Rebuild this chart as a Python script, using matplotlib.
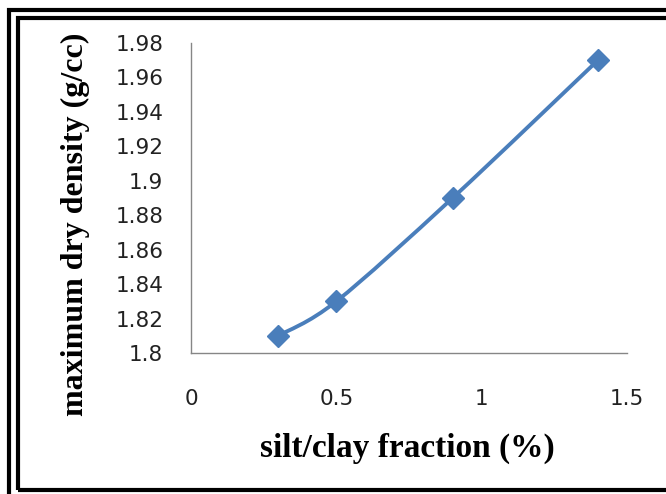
import numpy as np
from matplotlib import pyplot as plt
from matplotlib.path import Path
from matplotlib.patches import PathPatch, Rectangle
from matplotlib.ticker import FuncFormatter

# data
silt_clay = [0.3, 0.5, 0.9, 1.4]
max_dry_density = [1.81, 1.83, 1.89, 1.97]
x_ticks = [0, 0.5, 1, 1.5]
y_ticks = [1.80, 1.82, 1.84, 1.86, 1.88, 1.90, 1.92, 1.94, 1.96, 1.98]

W, H = 666, 494
fig = plt.figure(figsize=(W / 100, H / 100), dpi=100)

# double black frame (chart is cut off on the right)
def px_rect(x0, y0, x1, y1, lw, color):
    fig.patches.append(Rectangle((x0 / W, 1 - y1 / H), (x1 - x0) / W, (y1 - y0) / H,
                                 transform=fig.transFigure, fill=False,
                                 edgecolor=color, linewidth=lw))

px_rect(9, 10, 700, 520, 3.0, 'black')
px_rect(18, 18, 700, 490, 3.0, 'black')

ax = fig.add_axes([191 / W, 1 - 353 / H, (627 - 191) / W, (353 - 43) / H])
ax.set_xlim(0, 1.5)
ax.set_ylim(1.8, 1.98)
ax.set_xticks(x_ticks)
ax.set_yticks(y_ticks)
fmt = FuncFormatter(lambda v, p: '%g' % round(v, 2))
ax.xaxis.set_major_formatter(fmt)
ax.yaxis.set_major_formatter(fmt)
ax.tick_params(length=0, labelsize=15.5, colors='#222222')
ax.tick_params(axis='y', pad=20)
ax.tick_params(axis='x', pad=26)
for s in ['top', 'right']:
    ax.spines[s].set_visible(False)
for s in ['left', 'bottom']:
    ax.spines[s].set_color('#868686')
    ax.spines[s].set_linewidth(1.0)

# Excel-style smoothed line: cubic bezier through the points
xs = np.array(silt_clay)
ys = np.array(max_dry_density)
n = len(xs)
verts = [(xs[0], ys[0])]
codes = [Path.MOVETO]
for i in range(n - 1):
    p0 = (xs[max(i - 1, 0)], ys[max(i - 1, 0)])
    p1 = (xs[i], ys[i])
    p2 = (xs[i + 1], ys[i + 1])
    p3 = (xs[min(i + 2, n - 1)], ys[min(i + 2, n - 1)])
    c1 = (p1[0] + (p2[0] - p0[0]) / 6, p1[1] + (p2[1] - p0[1]) / 6)
    c2 = (p2[0] - (p3[0] - p1[0]) / 6, p2[1] - (p3[1] - p1[1]) / 6)
    verts += [c1, c2, p2]
    codes += [Path.CURVE4] * 3
ax.add_patch(PathPatch(Path(verts, codes), fill=False, edgecolor='#4a7ebb',
                       linewidth=2.8, clip_on=False))
ax.plot(xs, ys, linestyle='none', marker='D', markersize=11,
        color='#4a7ebb', clip_on=False, zorder=3)

fig.text(407 / W, 1 - 448 / H, 'silt/clay fraction (%)', ha='center', va='center',
         fontsize=24, fontweight='bold', family='Liberation Serif')
fig.text(75 / W, 1 - 224 / H, 'maximum dry density (g/cc)', ha='center', va='center',
         rotation=90, fontsize=23, fontweight='bold', family='Liberation Serif')

fig.savefig('out.png', dpi=100)
